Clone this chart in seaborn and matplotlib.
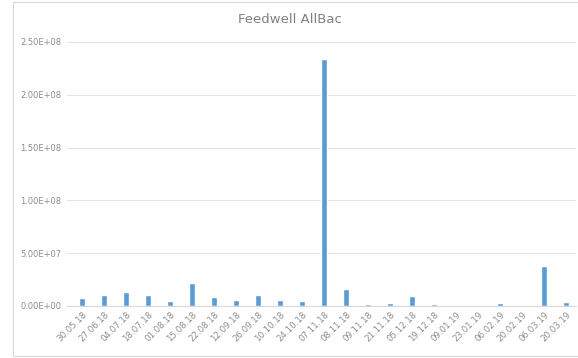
import matplotlib
matplotlib.use("Agg")
import matplotlib.pyplot as plt
import seaborn as sns
import pandas as pd
from matplotlib.patches import Rectangle
from matplotlib.ticker import FuncFormatter

dates = ["30.05.18", "27.06.18", "04.07.18", "18.07.18", "01.08.18", "15.08.18",
         "22.08.18", "12.09.18", "26.09.18", "10.10.18", "24.10.18", "07.11.18",
         "08.11.18", "09.11.18", "21.11.18", "05.12.18", "19.12.18", "09.01.19",
         "23.01.19", "06.02.19", "20.02.19", "06.03.19", "20.03.19"]
allbac = [7.6e6, 1.0e7, 1.3e7, 1.0e7, 4.5e6, 2.15e7,
          8.5e6, 5.5e6, 1.0e7, 5.5e6, 4.8e6, 2.34e8,
          1.6e7, 1.5e6, 2.8e6, 9.5e6, 1.5e6, 0.8e6,
          1.2e6, 2.8e6, 0.7e6, 3.8e7, 3.8e6]
yticks = [0, 5e7, 1e8, 1.5e8, 2e8, 2.5e8]

df = pd.DataFrame({"date": dates, "allbac": allbac})

sns.set_theme(style="white")
plt.rcParams["font.family"] = ["DejaVu Sans"]

fig = plt.figure(figsize=(5.78, 3.58), dpi=100)
ax = fig.add_axes([0.116, 0.1453, 0.8805, 0.7374])

sns.barplot(data=df, x="date", y="allbac", color="#5b9bd5", saturation=1,
            width=0.3, ax=ax)

ax.set_ylim(0, 2.5e8)
ax.set_xlim(-0.68, 22.45)
ax.set_yticks(yticks)
ax.yaxis.set_major_formatter(FuncFormatter(lambda v, p: f"{v:.2E}"))
ax.grid(axis="y", color="#e3e3e3", linewidth=0.8)
ax.set_axisbelow(True)
for side in ["left", "right", "top"]:
    ax.spines[side].set_visible(False)
ax.spines["bottom"].set_color("#d9d9d9")
ax.spines["bottom"].set_linewidth(0.8)

ax.tick_params(axis="y", length=0, labelsize=6, labelcolor="#8c8c8c", pad=4)
ax.tick_params(axis="x", length=0, labelsize=6.2, labelcolor="#8c8c8c", pad=3)
plt.setp(ax.get_xticklabels(), rotation=45, ha="right", rotation_mode="anchor")
ax.set_xlabel("")
ax.set_ylabel("")

fig.text(0.502, 0.945, "Feedwell AllBac", ha="center", va="center",
         fontsize=9.5, color="#808080")

# light chart border
fig.patches.append(Rectangle((13 / 578, 2 / 358), 1.0, 354 / 358,
                             transform=fig.transFigure, fill=False,
                             edgecolor="#d9d9d9", linewidth=0.8))

fig.savefig("out.png", dpi=100)
